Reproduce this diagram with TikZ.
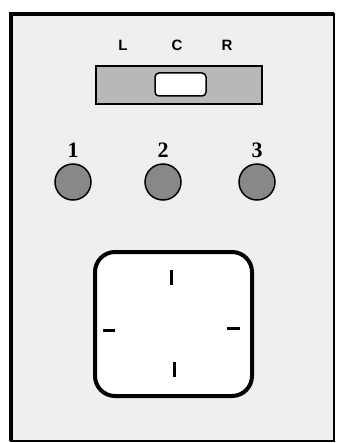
\documentclass[tikz,border=0pt]{standalone}
\usepackage{fontspec}
\setmainfont{Liberation Serif}
\newfontfamily\switchfont{Liberation Sans}
\usetikzlibrary{positioning}

\definecolor{panelgray}{HTML}{EFEFEF}
\definecolor{slidergray}{HTML}{B8B8B8}
\definecolor{lampgray}{HTML}{888888}

\begin{document}
\begin{tikzpicture}[x=1pt, y=-1pt, every node/.style={inner sep=0pt, outer sep=0pt},
  poslabel/.style={font=\switchfont\bfseries\fontsize{15}{15}\selectfont},
  numlabel/.style={font=\bfseries\fontsize{22}{22}\selectfont},
  lamp/.style={draw, line width=1.5pt, circle, fill=lampgray, minimum size=36pt}]
  \useasboundingbox (0,0) rectangle (338,443);

  % panel
  \fill[panelgray] (11,14) rectangle (334,441);
  \draw[line width=1.6pt] (11,14) rectangle (334,441);
  \draw[line width=4.5pt] (11,441) -- (11,14) -- (334,14);

  % selector switch
  \node[draw, line width=2pt, fill=slidergray, minimum width=166pt, minimum height=38pt] (slider) at (179,85) {};
  \node[draw, line width=1.5pt, fill=white, rounded corners=4pt, minimum width=51pt, minimum height=23pt] (knob) at (180.5,84.5) {};
  \node[poslabel] (posL) at (123,45) {L};
  \node[poslabel] (posC) at (177,45) {C};
  \node[poslabel] (posR) at (227,45) {R};

  % lamps
  \node[lamp] (lamp1) at (73,182) {};
  \node[lamp] (lamp2) at (163,182) {};
  \node[lamp] (lamp3) at (257,182) {};
  \node[numlabel, above=6pt of lamp1] (num1) {1};
  \node[numlabel, above=6pt of lamp2] (num2) {2};
  \node[numlabel, above=6pt of lamp3] (num3) {3};

  % dial
  \node[draw, line width=4pt, fill=white, rounded corners=20pt, minimum width=157pt, minimum height=144pt] (dial) at (173.5,324) {};
  \draw[line width=3pt] (171,270) -- (171,285);
  \draw[line width=3pt] (174,362) -- (174,377);
  \draw[line width=3pt] (103,330) -- (115,330);
  \draw[line width=3pt] (227,328) -- (240,328);
\end{tikzpicture}
\end{document}
